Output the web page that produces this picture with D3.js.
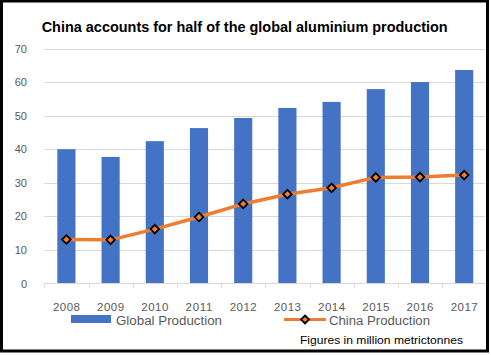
<!DOCTYPE html>
<html><head><meta charset="utf-8">
<script src="https://cdn.jsdelivr.net/npm/d3@7"></script>
<style>html,body{margin:0;padding:0;background:#fff;}svg{display:block;}</style>
</head><body>
<svg id="c" width="491" height="355"></svg>
<script>
const years = ["2008","2009","2010","2011","2012","2013","2014","2015","2016","2017"];
const globalProduction = [40.0, 37.7, 42.4, 46.3, 49.3, 52.3, 54.1, 57.9, 60.0, 63.6];
const chinaProduction = [13.1, 13.0, 16.2, 19.8, 23.7, 26.6, 28.5, 31.6, 31.7, 32.3];
const yTicks = [0, 10, 20, 30, 40, 50, 60, 70];
const titleText = "China accounts for half of the global aluminium production";
const seriesNames = ["Global Production", "China Production"];
const noteText = "Figures in million metrictonnes";

const svg = d3.select("#c");
const blue = "#4472C4", orange = "#ED7D31", grid = "#D9D9D9", grey = "#595959";

const x = d3.scaleBand().domain(years).range([44.3, 486.3]).paddingInner(0.59).paddingOuter(0.295);
const xb = d3.scaleBand().domain(years).range([44.3, 486.3]);
const y = d3.scaleLinear().domain([0, 70]).range([283.5, 48.5]);

// gridlines
svg.append("g").selectAll("line").data(yTicks.slice(1)).join("line")
  .attr("x1", 44.3).attr("x2", 485).attr("y1", d => Math.round(y(d)) + 0.5).attr("y2", d => Math.round(y(d)) + 0.5)
  .attr("stroke", grid).attr("stroke-width", 1);

// y labels
svg.append("g").selectAll("text").data(yTicks).join("text")
  .attr("x", 27).attr("y", d => y(d) + 4).attr("text-anchor", "end")
  .attr("font-family", "Liberation Sans, Arial, sans-serif").attr("font-size", 11).attr("fill", grey)
  .text(d => d);

// bars
svg.append("g").selectAll("rect").data(years).join("rect")
  .attr("x", (d) => x(d)).attr("width", x.bandwidth())
  .attr("y", (d, i) => y(globalProduction[i])).attr("height", (d, i) => y(0) - y(globalProduction[i]))
  .attr("fill", blue);

// x axis
const xAxis = svg.append("g").attr("transform", "translate(0,283.5)");
xAxis.append("line").attr("x1", 44.3).attr("x2", 486).attr("stroke", grid);
xAxis.selectAll("line.t").data(years.concat(["end"])).join("line").attr("class", "t")
  .attr("x1", (d, i) => Math.round(i < years.length ? xb(d) : 486.3) + 0.5)
  .attr("x2", (d, i) => Math.round(i < years.length ? xb(d) : 486.3) + 0.5)
  .attr("y1", 0).attr("y2", 4).attr("stroke", grid);
svg.append("g").selectAll("text").data(years).join("text")
  .attr("x", d => xb(d) + xb.bandwidth() / 2).attr("y", 310.5).attr("text-anchor", "middle")
  .attr("font-family", "Liberation Sans, Arial, sans-serif").attr("font-size", 11.5).attr("fill", grey)
  .attr("textLength", 27).attr("lengthAdjust", "spacing")
  .text(d => d);

// line
const cx = d => x(d) + x.bandwidth() / 2;
const line = d3.line().x((d, i) => cx(years[i])).y(d => y(d));
svg.append("path").datum(chinaProduction).attr("d", line)
  .attr("fill", "none").attr("stroke", orange).attr("stroke-width", 3.5).attr("stroke-linejoin", "round");
const diamond = (s) => `M0,${-s}L${s},0L0,${s}L${-s},0Z`;
svg.append("g").selectAll("path").data(chinaProduction).join("path")
  .attr("transform", (d, i) => `translate(${cx(years[i])},${y(d)})`)
  .attr("d", diamond(4.3)).attr("fill", orange).attr("stroke", "#000").attr("stroke-width", 1.8);

// title
svg.append("text").attr("x", 41.7).attr("y", 32)
  .attr("font-family", "Liberation Sans, Arial, sans-serif").attr("font-weight", "bold").attr("font-size", 15.5)
  .attr("fill", "#000").attr("textLength", 406).attr("lengthAdjust", "spacingAndGlyphs").text(titleText);

// legend
svg.append("rect").attr("x", 71).attr("y", 315).attr("width", 40).attr("height", 8).attr("fill", blue);
svg.append("text").attr("x", 116).attr("y", 324.5)
  .attr("font-family", "Liberation Sans, Arial, sans-serif").attr("font-size", 12.5).attr("fill", grey)
  .attr("textLength", 106).attr("lengthAdjust", "spacingAndGlyphs").text(seriesNames[0]);
svg.append("line").attr("x1", 284).attr("x2", 326).attr("y1", 319.5).attr("y2", 319.5)
  .attr("stroke", orange).attr("stroke-width", 3);
svg.append("path").attr("transform", "translate(305,319.5)").attr("d", diamond(4))
  .attr("fill", orange).attr("stroke", "#000").attr("stroke-width", 1.8);
svg.append("text").attr("x", 329).attr("y", 324.5)
  .attr("font-family", "Liberation Sans, Arial, sans-serif").attr("font-size", 12.5).attr("fill", grey)
  .attr("textLength", 101).attr("lengthAdjust", "spacingAndGlyphs").text(seriesNames[1]);

// note
svg.append("text").attr("x", 300).attr("y", 344)
  .attr("font-family", "Liberation Sans, Arial, sans-serif").attr("font-size", 11).attr("fill", "#000")
  .attr("textLength", 163).attr("lengthAdjust", "spacingAndGlyphs").text(noteText);

// frame
svg.append("rect").attr("x", 1.5).attr("y", 1).attr("width", 486).attr("height", 350)
  .attr("fill", "none").attr("stroke", "#000").attr("stroke-width", 3);
</script>
</body></html>
